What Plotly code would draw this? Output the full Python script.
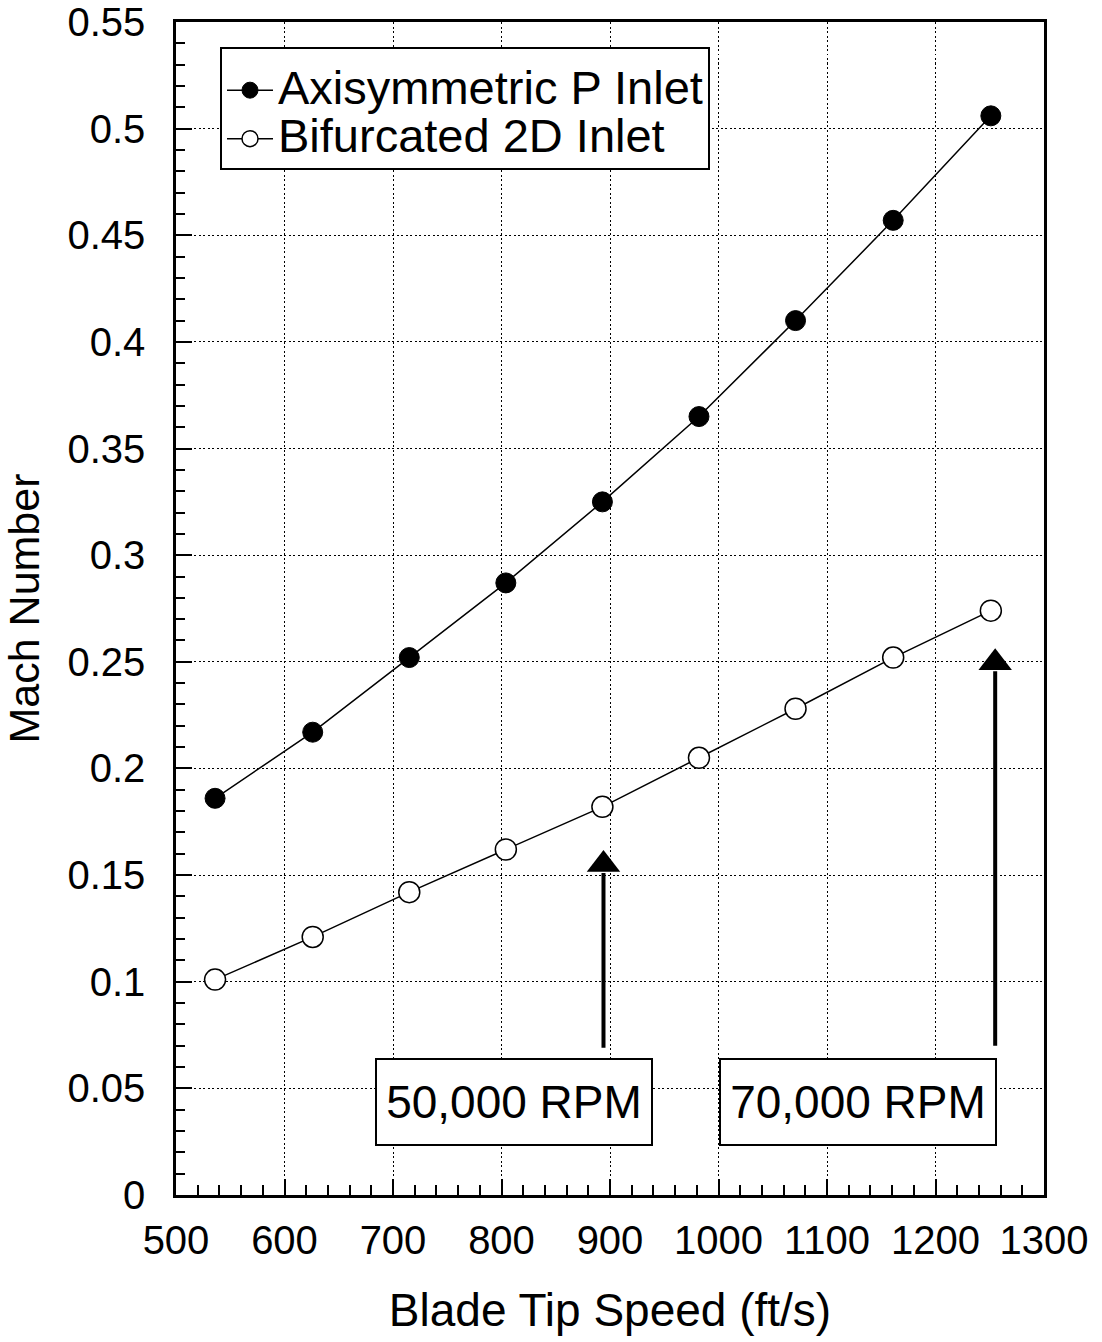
import plotly.graph_objects as go

# Data
tip_speed = [536, 626, 715, 804, 893, 982, 1071, 1161, 1251]
mach_axisym = [0.186, 0.217, 0.252, 0.287, 0.325, 0.365, 0.410, 0.457, 0.506]
mach_bifurc = [0.101, 0.121, 0.142, 0.162, 0.182, 0.205, 0.228, 0.252, 0.274]

series_names = ["Axisymmetric P Inlet", "Bifurcated 2D Inlet"]

# Arrow markers (RPM annotations)
arrow_x = [894, 1255]
arrow_tail_y = [0.069, 0.070]
arrow_head_y = [0.155, 0.2496]
rpm_labels = ["50,000 RPM", "70,000 RPM"]
rpm_label_x = [811.5, 1129]
rpm_label_y = [0.0434, 0.0434]

x_ticks = [500, 600, 700, 800, 900, 1000, 1100, 1200, 1300]
y_ticks = [0, 0.05, 0.1, 0.15, 0.2, 0.25, 0.3, 0.35, 0.4, 0.45, 0.5, 0.55]
y_tick_text = ["0", "0.05", "0.1", "0.15", "0.2", "0.25", "0.3", "0.35", "0.4", "0.45", "0.5", "0.55"]

FONT = "Liberation Sans, Arial, Helvetica, sans-serif"

fig = go.Figure()

def legend_label(s):
    return '<span style="font-size:47px">' + s + '</span>'

fig.add_trace(go.Scatter(
    x=tip_speed, y=mach_axisym, name=legend_label(series_names[0]), mode="lines+markers",
    line=dict(color="black", width=1.5),
    marker=dict(symbol="circle", size=20, color="black", line=dict(color="black", width=1)),
))
fig.add_trace(go.Scatter(
    x=tip_speed, y=mach_bifurc, name=legend_label(series_names[1]), mode="lines+markers",
    line=dict(color="black", width=1.5),
    marker=dict(symbol="circle", size=21, color="white", line=dict(color="black", width=1.5)),
))

# Arrows: shafts and heads
for ax, y0, y1 in zip(arrow_x, arrow_tail_y, arrow_head_y):
    fig.add_trace(go.Scatter(
        x=[ax, ax], y=[y0, y1 - 0.004], mode="lines",
        line=dict(color="black", width=4), showlegend=False, hoverinfo="skip",
    ))
fig.add_trace(go.Scatter(
    x=arrow_x, y=arrow_head_y, mode="markers",
    marker=dict(symbol="triangle-up", size=29, color="black", line=dict(width=0)),
    showlegend=False, hoverinfo="skip",
))

for lx, ly, txt in zip(rpm_label_x, rpm_label_y, rpm_labels):
    fig.add_annotation(
        x=lx, y=ly, text=txt, showarrow=False,
        font=dict(family=FONT, size=46, color="black"),
        width=266, height=76, align="center", valign="middle",
        bgcolor="white", bordercolor="black", borderwidth=2, borderpad=4,
    )

axis_common = dict(
    showline=True, linecolor="black", linewidth=2.5, mirror=True,
    ticks="inside", ticklen=16, tickwidth=1.5, tickcolor="black",
    showgrid=True, gridcolor="black", gridwidth=1.3, griddash="2px,2.5px",
    zeroline=False, automargin=False,
    tickfont=dict(family=FONT, size=40, color="black"),
)

fig.update_xaxes(
    **axis_common,
    range=[500, 1300], tickvals=x_ticks, ticklabelstandoff=8,
    minor=dict(dtick=20, ticks="inside", ticklen=10, tickwidth=1.5, tickcolor="black", showgrid=False),
    title=dict(text="Blade Tip Speed (ft/s)", font=dict(family=FONT, size=46, color="black"), standoff=34),
)
fig.update_yaxes(
    **axis_common,
    range=[0, 0.55], tickvals=y_ticks, ticktext=y_tick_text, ticklabelstandoff=20,
    minor=dict(dtick=0.01, ticks="inside", ticklen=9, tickwidth=1.5, tickcolor="black", showgrid=False),
    title=dict(text="Mach Number", font=dict(family=FONT, size=43, color="black"), standoff=18),
)

fig.update_layout(
    width=1102, height=1342,
    margin=dict(l=176, r=58, t=22, b=147),
    paper_bgcolor="white", plot_bgcolor="white",
    showlegend=True,
    legend=dict(
        x=0.0507, y=0.9785, xanchor="left", yanchor="top",
        bgcolor="white", bordercolor="black", borderwidth=2,
        font=dict(family=FONT, size=35, color="black"),
        title=dict(text="&nbsp;", font=dict(family=FONT, size=9, color="black")),
        itemsizing="trace", itemwidth=46, tracegroupgap=0,
    ),
)

fig.write_html("out.html")
